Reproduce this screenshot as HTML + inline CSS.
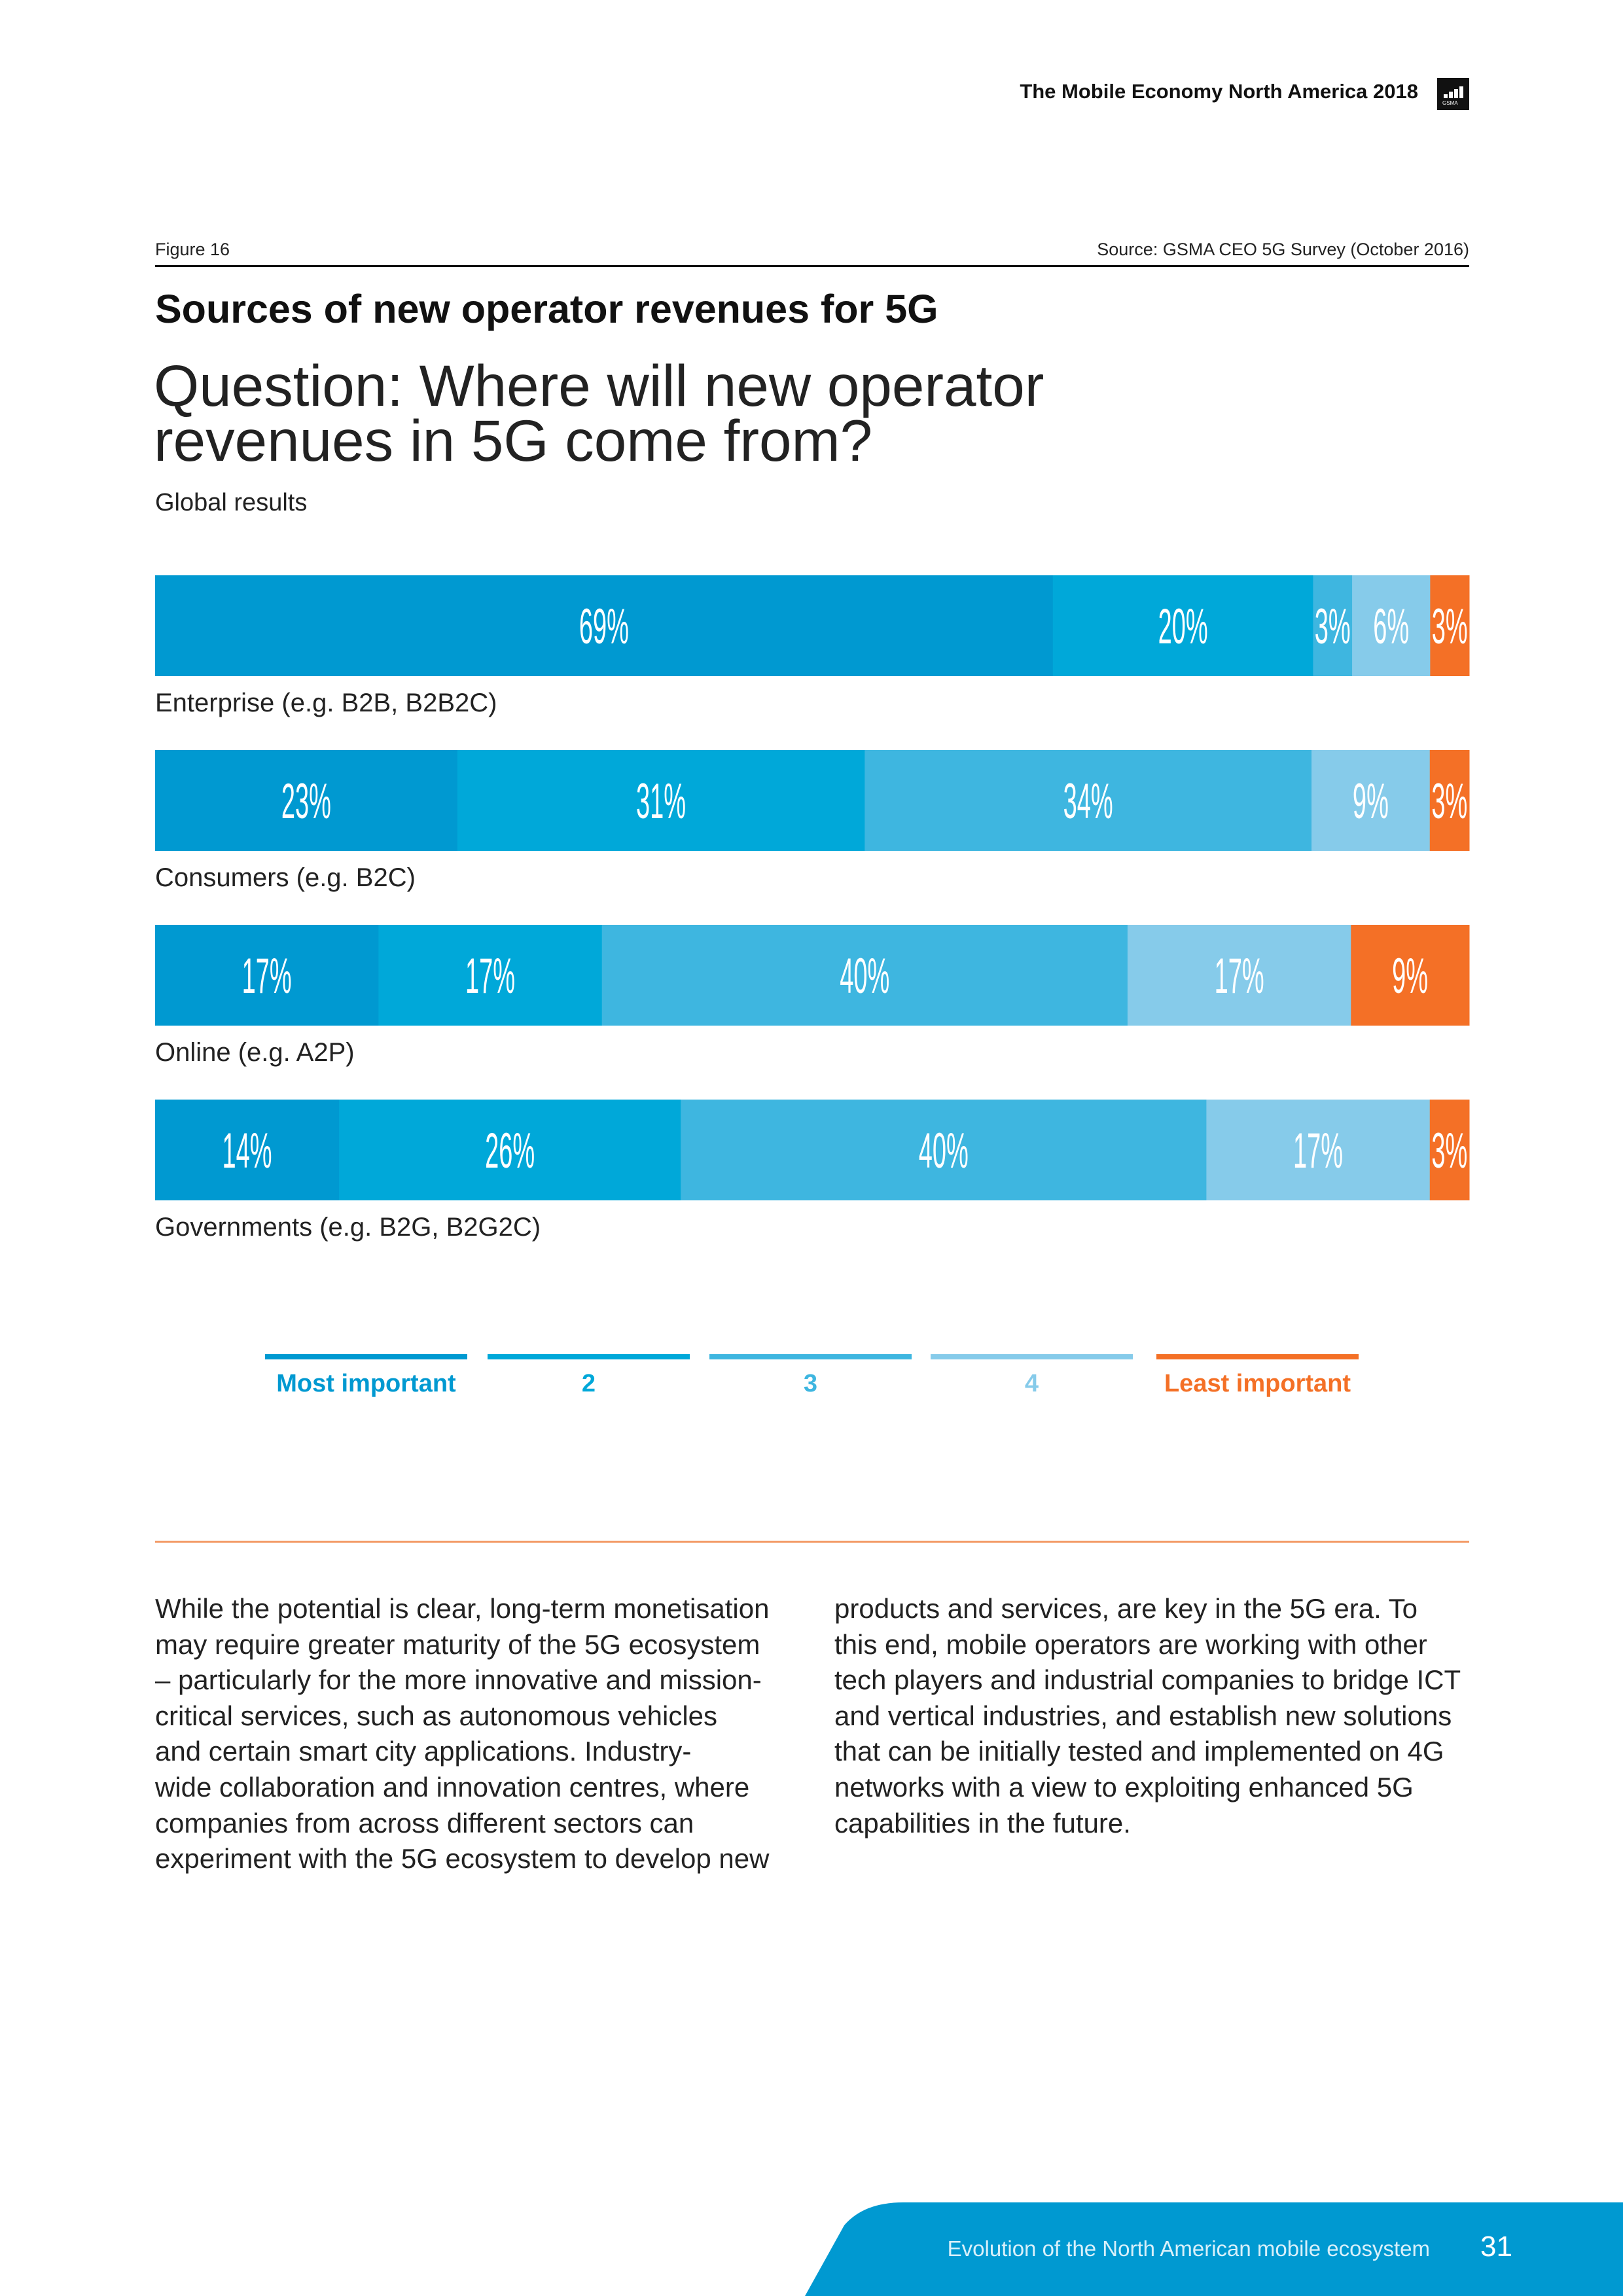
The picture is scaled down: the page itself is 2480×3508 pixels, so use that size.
<!DOCTYPE html>
<html><head><meta charset="utf-8"><style>
*{margin:0;padding:0;box-sizing:border-box}
body{width:2480px;height:3508px;background:#fff;position:relative;overflow:hidden;font-family:"Liberation Sans",sans-serif;color:#111}
.abs{position:absolute;white-space:nowrap}
.para{position:absolute;font-size:42px;line-height:54.6px;color:#222;white-space:nowrap}
</style></head><body>
<div class="abs" style="right:313px;top:122px;font-size:31px;font-weight:bold">The Mobile Economy North America 2018</div>
<div class="abs" style="left:2196px;top:119px;width:49px;height:49px;background:#111">
<div style="position:absolute;left:10px;bottom:18px;width:6px;height:6px;background:#fff"></div>
<div style="position:absolute;left:18px;bottom:18px;width:6px;height:10px;background:#fff"></div>
<div style="position:absolute;left:26px;bottom:18px;width:6px;height:14px;background:#fff"></div>
<div style="position:absolute;left:34px;bottom:18px;width:6px;height:18px;background:#fff"></div>
<div style="position:absolute;left:8px;bottom:6px;font-size:8px;color:#fff">GSMA</div></div>
<div class="abs" style="left:237px;top:366px;font-size:27px;color:#222">Figure 16</div>
<div class="abs" style="right:235px;top:366px;font-size:27px;color:#222">Source: GSMA CEO 5G Survey (October 2016)</div>
<div class="abs" style="left:237px;top:405px;width:2008px;height:3px;background:#111"></div>
<div class="abs" style="left:237px;top:437px;font-size:61px;font-weight:bold">Sources of new operator revenues for 5G</div>
<div class="abs" style="left:235px;top:547px;font-size:89px;line-height:84px;color:#222">Question: Where will new operator<br>revenues in 5G come from?</div>
<div class="abs" style="left:237px;top:747px;font-size:38px;color:#222">Global results</div>

<svg id="chart" width="2480" height="2200" style="position:absolute;left:0;top:0"></svg>

<div class="abs" style="left:237px;top:2354px;width:2008px;height:3px;background:#f39a65"></div>
<div class="para" style="left:237px;top:2431px">While the potential is clear, long-term monetisation<br>may require greater maturity of the 5G ecosystem<br>– particularly for the more innovative and mission-<br>critical services, such as autonomous vehicles<br>and certain smart city applications. Industry-<br>wide collaboration and innovation centres, where<br>companies from across different sectors can<br>experiment with the 5G ecosystem to develop new</div>
<div class="para" style="left:1275px;top:2431px">products and services, are key in the 5G era. To<br>this end, mobile operators are working with other<br>tech players and industrial companies to bridge ICT<br>and vertical industries, and establish new solutions<br>that can be initially tested and implemented on 4G<br>networks with a view to exploiting enhanced 5G<br>capabilities in the future.</div>
<svg class="abs" style="left:0;top:3360px" width="2480" height="148"><path d="M1230 148 L1290 40 Q1320 5 1380 5 L2480 5 L2480 148 Z" fill="#0099d1"/></svg>
<div class="abs" style="right:295px;top:3417px;font-size:33px;color:#d8f0fa">Evolution of the North American mobile ecosystem</div>
<div class="abs" style="left:2262px;top:3408px;font-size:44px;color:#fff">31</div>

<script>
const categories=["Enterprise (e.g. B2B, B2B2C)","Consumers (e.g. B2C)","Online (e.g. A2P)","Governments (e.g. B2G, B2G2C)"];
const rank1=[69,23,17,14];
const rank2=[20,31,17,26];
const rank3=[3,34,40,40];
const rank4=[6,9,17,17];
const rank5=[3,3,9,3];
const legendLabels=["Most important","2","3","4","Least important"];
const colors=["#0099d1","#00a8d9","#3eb6e0","#86cbea","#f47026"];
const series=[rank1,rank2,rank3,rank4,rank5];
const NS="http://www.w3.org/2000/svg";
const svg=document.getElementById('chart');
const x0=237,x1=2245,barTop=879,barH=154,pitch=267;
function xScale(v,total){return (x1-x0)*v/total;}
function yRow(i){return barTop+i*pitch;}
categories.forEach((c,i)=>{
  const total=series.reduce((s,a)=>s+a[i],0);
  let x=x0;
  series.forEach((a,k)=>{
    const w=xScale(a[i],total);
    const r=document.createElementNS(NS,'rect');
    r.setAttribute('x',x);r.setAttribute('y',yRow(i));r.setAttribute('width',w+0.5);r.setAttribute('height',barH);r.setAttribute('fill',colors[k]);
    
    
    svg.appendChild(r);
    const cx=x+w/2;
    const t=document.createElementNS(NS,'text');
    t.setAttribute('x',cx*2);t.setAttribute('y',yRow(i)+barH/2+27);
    t.setAttribute('transform','scale(0.5,1)');
    t.setAttribute('text-anchor','middle');t.setAttribute('fill','#fff');t.setAttribute('font-size','76');
    t.setAttribute('font-family','Liberation Sans, sans-serif');
    t.textContent=a[i]+'%';
    
    
    svg.appendChild(t);
    x+=w;
  });
  const l=document.createElementNS(NS,'text');
  l.setAttribute('x',x0);l.setAttribute('y',yRow(i)+barH+54);
  l.setAttribute('font-size','40');l.setAttribute('fill','#222');l.setAttribute('font-family','Liberation Sans, sans-serif');
  l.textContent=c;
  
  
  svg.appendChild(l);
});
const legX=[405,745,1084,1422,1767],legW=309;
legendLabels.forEach((s,k)=>{
  const r=document.createElementNS(NS,'rect');
  r.setAttribute('x',legX[k]);r.setAttribute('y',2069);r.setAttribute('width',legW);r.setAttribute('height',8);r.setAttribute('fill',colors[k]);
  
  
  svg.appendChild(r);
  const t=document.createElementNS(NS,'text');
  t.setAttribute('x',legX[k]+legW/2);t.setAttribute('y',2126);t.setAttribute('text-anchor','middle');
  t.setAttribute('font-size','38');t.setAttribute('font-weight','bold');t.setAttribute('fill',colors[k]);t.setAttribute('font-family','Liberation Sans, sans-serif');
  t.textContent=s;
  
  
  svg.appendChild(t);
});
</script>
</body></html>
